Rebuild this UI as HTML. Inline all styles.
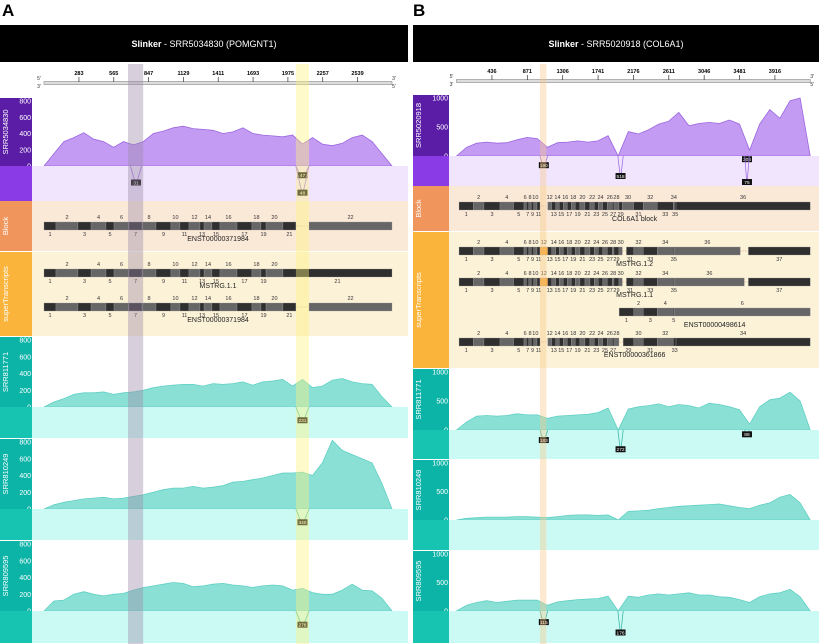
<!DOCTYPE html>
<html><head><meta charset="utf-8">
<style>
html,body{margin:0;padding:0;background:#fff;}
svg{display:block;font-family:"Liberation Sans",sans-serif;}
</style></head>
<body>
<svg id="fig" width="819" height="644" viewBox="0 0 819 644" xmlns="http://www.w3.org/2000/svg">
<text x="2" y="16" font-size="17" font-weight="bold">A</text>
<text x="413" y="16" font-size="17" font-weight="bold">B</text>
<rect x="0" y="25" width="408" height="37" fill="#000"/>
<text x="204" y="47" font-size="9" fill="#fff" text-anchor="middle"><tspan font-weight="bold">Slinker</tspan> - SRR5034830 (POMGNT1)</text>
<rect x="413" y="25" width="406" height="37" fill="#000"/>
<text x="616" y="47" font-size="9" fill="#fff" text-anchor="middle"><tspan font-weight="bold">Slinker</tspan> - SRR5020918 (COL6A1)</text>
</svg>
<script>
// ---------- DATA ----------
const aTicks=[283,565,847,1129,1411,1693,1975,2257,2539];
const bTicks=[436,871,1306,1741,2176,2611,3046,3481,3916];
const aCovSRR5034830=[0,150,300,350,410,330,300,230,300,260,300,400,430,470,490,460,450,440,400,420,470,400,380,370,360,380,270,350,270,250,280,350,380,300,150,0];
const aCovSRR811771=[0,60,100,150,170,170,180,150,170,180,200,230,250,260,270,270,250,280,270,280,300,260,300,310,330,250,330,230,250,320,340,300,280,270,120,0];
const aCovSRR810249=[0,50,80,100,120,130,140,120,130,150,170,200,230,250,250,270,250,260,280,320,330,350,370,400,430,430,440,400,550,820,700,650,600,550,300,0];
const aCovSRR809595=[0,120,130,200,230,200,180,200,210,250,280,300,320,340,330,290,300,320,330,310,300,280,300,310,300,250,270,220,200,200,250,320,250,240,150,0];
const bCovSRR5020918=[0,150,220,240,220,230,280,320,300,150,230,240,260,240,260,350,0,420,380,450,550,600,750,520,560,580,560,620,550,100,550,800,650,950,1000,0];
const bCovSRR811771=[0,140,240,250,240,250,280,260,260,200,240,250,260,270,300,380,0,360,400,420,450,400,440,420,380,460,440,400,350,100,400,520,550,650,500,0];
const bCovSRR810249=[0,30,40,50,50,50,60,60,50,40,60,80,90,90,80,90,0,150,160,170,200,220,240,250,260,270,280,250,220,200,260,300,400,450,300,0];
const bCovSRR809595=[0,100,150,180,150,170,190,190,190,100,160,180,200,210,220,260,0,260,240,280,300,280,300,320,280,280,250,240,200,150,250,300,320,380,250,0];
const aBlockBounds=[0,97,275,381,502,567,688,794,907,1028,1101,1174,1263,1296,1360,1425,1563,1684,1757,1798,1935,2040,null,2146,2818];
const aMstrgBounds=[0,97,275,381,502,567,688,794,907,1028,1101,1174,1263,1296,1360,1425,1563,1684,1757,1798,1935,2818];
const bBlockBounds=[31,207,338,535,703,830,860,890,920,950,990,1027,null,1121,1171,1220,1264,1313,1362,1412,1461,1518,1580,1641,1695,1744,1798,1854,1916,1937,1998,2040,2179,2297,2469,2666,2680,2700,4350];
const bMstrg12Bounds=[31,207,338,535,703,830,860,890,920,950,990,1027,1121,1171,1220,1264,1313,1362,1412,1461,1518,1580,1641,1695,1744,1798,1854,1916,1937,1998,2040,null,2090,2179,2297,2469,2666,2680,3490,null,3590,4350];
const bMstrg11Bounds=[31,207,338,535,703,830,860,890,920,950,990,1027,1121,1171,1220,1264,1313,1362,1412,1461,1518,1580,1641,1695,1744,1798,1854,1916,1937,1998,2040,null,2090,2179,2297,2469,2666,2680,3540,null,3590,4350];
const bEnst498614Bounds=[2000,2179,2297,2469,2666,2680,4350];
const bEnst361866Bounds=[31,207,338,535,703,830,860,890,920,950,990,1027,null,1121,1171,1220,1264,1313,1362,1412,1461,1518,1580,1641,1695,1744,1798,1854,1916,1937,1998,null,2050,2179,2297,2469,2666,2700,4350];
const aJuncPurple=[[700,790,"31",0.5],[2040,2146,"47",0.25],[2040,2146,"48",0.85]];
const aJuncTeal1=[[2040,2146,"231",0.45]];
const aJuncTeal2=[[2040,2146,"340",0.45]];
const aJuncTeal3=[[2040,2146,"276",0.45]];
const bJuncPurple=[[1027,1121,"190",0.3],[1985,2050,"518",0.75],[3545,3600,"306",0.05],[3545,3600,"75",1.0]];
const bJuncTeal1=[[1027,1121,"183",0.35],[1985,2050,"272",0.75],[3545,3600,"88",0.1]];
const bJuncTeal3=[[1027,1121,"115",0.35],[1985,2050,"176",0.75]];

// ---------- DRAW ----------
const NS="http://www.w3.org/2000/svg";
const svg=document.getElementById('fig');
function mk(tag,attrs,parent){const e=document.createElementNS(NS,tag);for(const k in attrs)e.setAttribute(k,attrs[k]);(parent||svg).appendChild(e);return e;}
function txt(x,y,s,size,fill,anchor,parent){const t=mk('text',{x:x,y:y,'font-size':size,fill:fill,'text-anchor':anchor||'middle'},parent);t.textContent=s;return t;}

const P={
 a:{x0:0,lab:32,right:408,d0:0,d1:2818,r0:44,r1:392,rulerY:83,ymax:800,yt:[0,200,400,600,800]},
 b:{x0:413,lab:449,right:819,d0:0,d1:4350,r0:456.5,r1:810.2,rulerY:81,ymax:1000,yt:[0,500,1000]}
};
function sx(p,v){return p.r0+(v-p.d0)*(p.r1-p.r0)/(p.d1-p.d0);}

function ruler(p,ticks,name){
  const g=mk('g',{});
  
  
  const y=p.rulerY;
  mk('rect',{x:sx(p,p.d0),y:y-1.5,width:sx(p,p.d1)-sx(p,p.d0),height:3,fill:'#ddd',stroke:'#888','stroke-width':0.6},g);
  txt(p.r0-5,y-3,"5'",5,'#333','middle',g);txt(p.r0-5,y+5,"3'",5,'#333','middle',g);
  txt(p.r1+2,y-3,"3'",5,'#333','middle',g);txt(p.r1+2,y+5,"5'",5,'#333','middle',g);
  ticks.forEach(t=>{const x=sx(p,t);
    mk('line',{x1:x,x2:x,y1:y-6,y2:y-1,stroke:'#333','stroke-width':0.7},g);
    const l=txt(x,y-8,String(t),5.5,'#000','middle',g);l.setAttribute('font-weight','bold');});
}
function labelCol(p,y0,y1,color,name,label){
  mk('rect',{x:p.x0,y:y0,width:p.lab-p.x0,height:y1-y0,fill:color});
  if(label){const cx=p.x0+8,cy=(y0+y1)/2;
    const t=mk('text',{x:cx,y:cy,'font-size':7.5,fill:'#fff','text-anchor':'middle',transform:`rotate(-90 ${cx} ${cy})`});
    t.textContent=label;}
}
function coverage(p,y0,y1,vals,labColor,fill,stroke,name,label){
  labelCol(p,y0,y1,labColor,name+'-label',label);
  const h=y1-y0-3,base=y1;
  const sy=v=>base-v/p.ymax*h;
  p.yt.forEach(v=>{txt(p.lab-1,sy(v)+2.5,String(v),7,'#fff','end');});
  let d='M'+sx(p,p.d0)+','+base;
  vals.forEach((v,i)=>{const bp=p.d0+i*(p.d1-p.d0)/(vals.length-1);d+=' L'+sx(p,bp).toFixed(1)+','+sy(v).toFixed(1);});
  d+=' L'+sx(p,p.d1)+','+base+' Z';
  const path=mk('path',{d:d,fill:fill,stroke:stroke,'stroke-width':0.8});
  
  
}
function splice(p,y0,y1,juncs,labColor,bg,lineColor,name){
  labelCol(p,y0,y1,labColor,name+'-label',null);
  mk('rect',{x:p.lab,y:y0,width:p.right-p.lab,height:y1-y0,fill:bg});
  juncs.forEach(j=>{
    const xa=sx(p,j[0]),xb=sx(p,j[1]),xm=(xa+xb)/2,yd=y0+j[3]*(y1-y0-6)+2;
    const pth=mk('path',{d:`M${xa},${y0} Q${xm},${yd+4} ${xm},${yd} Q${xm},${yd+4} ${xb},${y0}`,fill:'none',stroke:lineColor,'stroke-width':0.8});
    
    
    mk('rect',{x:xm-5,y:yd-3,width:10,height:6,fill:'#111'});
    txt(xm,yd+1.8,j[2],4.8,'#fff');
  });
}
function transcript(p,y,bounds,name,label,special,darkLast){
  const g=mk('g',{});
  
  
  let n=0,prevEnd=null;
  for(let i=0;i<bounds.length-1;i++){
    const a=bounds[i],b=bounds[i+1];
    if(a===null){continue;}
    if(b===null){prevEnd=a;continue;}
    if(prevEnd!==null){mk('line',{x1:sx(p,prevEnd),x2:sx(p,a),y1:y+4,y2:y+4,stroke:'#c98','stroke-width':0.6,'stroke-dasharray':'1.5,1'},g);prevEnd=null;}
    n++;
    const x=sx(p,a),w=sx(p,b)-x;
    let fill=n%2?'#2f2f2f':'#666';
    if(special&&special===n)fill='#f7a93a';
    if(darkLast&&i===bounds.length-2)fill='#2f2f2f';
    mk('rect',{x:x,y:y,width:w,height:8,fill:fill,stroke:'#999','stroke-width':0.3},g);
    const cx=x+w/2;
    if(n%2===0)txt(cx,y-3,String(n),5.5,'#333','middle',g);else txt(cx,y+14,String(n),5.5,'#333','middle',g);
  }
  txt((sx(p,bounds[0])+sx(p,bounds[bounds.length-1]))/2,y+19,label,7,'#222','middle',g);
}

// Panel A
const A=P.a;
ruler(A,aTicks,'panel-a-position-ruler');
coverage(A,98,166,aCovSRR5034830,'#5b1ca6','#c49bf2','#9a66e0','a-coverage-srr5034830','SRR5034830');
splice(A,166,201,aJuncPurple,'#8b3be6','#f1e5fd','#a070e0','a-splice-srr5034830');
mk('rect',{x:0,y:201,width:408,height:50,fill:'#fbe9d8'});labelCol(A,201,251,'#f0955c','a-block-label','Block');
transcript(A,222,aBlockBounds,'a-block-ENST00000371984','ENST00000371984');
mk('rect',{x:0,y:252,width:408,height:84,fill:'#fcf2d8'});labelCol(A,252,336,'#fab43c','a-supertranscripts-label','superTranscripts');
transcript(A,269,aMstrgBounds,'a-transcript-MSTRG-1-1','MSTRG.1.1');
transcript(A,303,aBlockBounds,'a-transcript-ENST00000371984','ENST00000371984');
coverage(A,337,407,aCovSRR811771,'#0cb3a7','#8be0d6','#5fd0c3','a-coverage-srr811771','SRR811771');
splice(A,407,438,aJuncTeal1,'#17c4b2','#cbfaf4','#3cb8a8','a-splice-srr811771');
coverage(A,439,509,aCovSRR810249,'#0cb3a7','#8be0d6','#5fd0c3','a-coverage-srr810249','SRR810249');
splice(A,509,540,aJuncTeal2,'#17c4b2','#cbfaf4','#3cb8a8','a-splice-srr810249');
coverage(A,541,611,aCovSRR809595,'#0cb3a7','#8be0d6','#5fd0c3','a-coverage-srr809595','SRR809595');
splice(A,611,643,aJuncTeal3,'#17c4b2','#cbfaf4','#3cb8a8','a-splice-srr809595');
let hb=mk('rect',{x:sx(A,680),y:64,width:sx(A,803)-sx(A,680),height:580,fill:'#9c8aa8','fill-opacity':0.4});

hb=mk('rect',{x:sx(A,2040),y:64,width:sx(A,2146)-sx(A,2040),height:580,fill:'#fff27a','fill-opacity':0.4});


// Panel B
const B=P.b;
ruler(B,bTicks,'panel-b-position-ruler');
coverage(B,95,156,bCovSRR5020918,'#5b1ca6','#c49bf2','#9a66e0','b-coverage-srr5020918','SRR5020918');
splice(B,156,186,bJuncPurple,'#8b3be6','#f1e5fd','#a070e0','b-splice-srr5020918');
mk('rect',{x:413,y:186,width:406,height:45,fill:'#fbe9d8'});labelCol(B,186,231,'#f0955c','b-block-label','Block');
transcript(B,202,bBlockBounds,'b-block-COL6A1','COL6A1 block',0,true);
mk('rect',{x:413,y:232,width:406,height:136,fill:'#fcf2d8'});labelCol(B,232,368,'#fab43c','b-supertranscripts-label','superTranscripts');
transcript(B,247,bMstrg12Bounds,'b-transcript-MSTRG-1-2','MSTRG.1.2',12);
transcript(B,278,bMstrg11Bounds,'b-transcript-MSTRG-1-1','MSTRG.1.1',12);
transcript(B,308,bEnst498614Bounds,'b-transcript-ENST00000498614','ENST00000498614');
transcript(B,338,bEnst361866Bounds,'b-transcript-ENST00000361866','ENST00000361866',0,true);
coverage(B,369,430,bCovSRR811771,'#0cb3a7','#8be0d6','#5fd0c3','b-coverage-srr811771','SRR811771');
splice(B,430,459,bJuncTeal1,'#17c4b2','#cbfaf4','#3cb8a8','b-splice-srr811771');
coverage(B,460,520,bCovSRR810249,'#0cb3a7','#8be0d6','#5fd0c3','b-coverage-srr810249','SRR810249');
splice(B,520,550,[],'#17c4b2','#cbfaf4','#3cb8a8','b-splice-srr810249');
coverage(B,551,611,bCovSRR809595,'#0cb3a7','#8be0d6','#5fd0c3','b-coverage-srr809595','SRR809595');
splice(B,611,643,bJuncTeal3,'#17c4b2','#cbfaf4','#3cb8a8','b-splice-srr809595');
hb=mk('rect',{x:sx(B,1027),y:64,width:sx(B,1105)-sx(B,1027),height:580,fill:'#f7c98a','fill-opacity':0.4});

</script>
</body></html>
